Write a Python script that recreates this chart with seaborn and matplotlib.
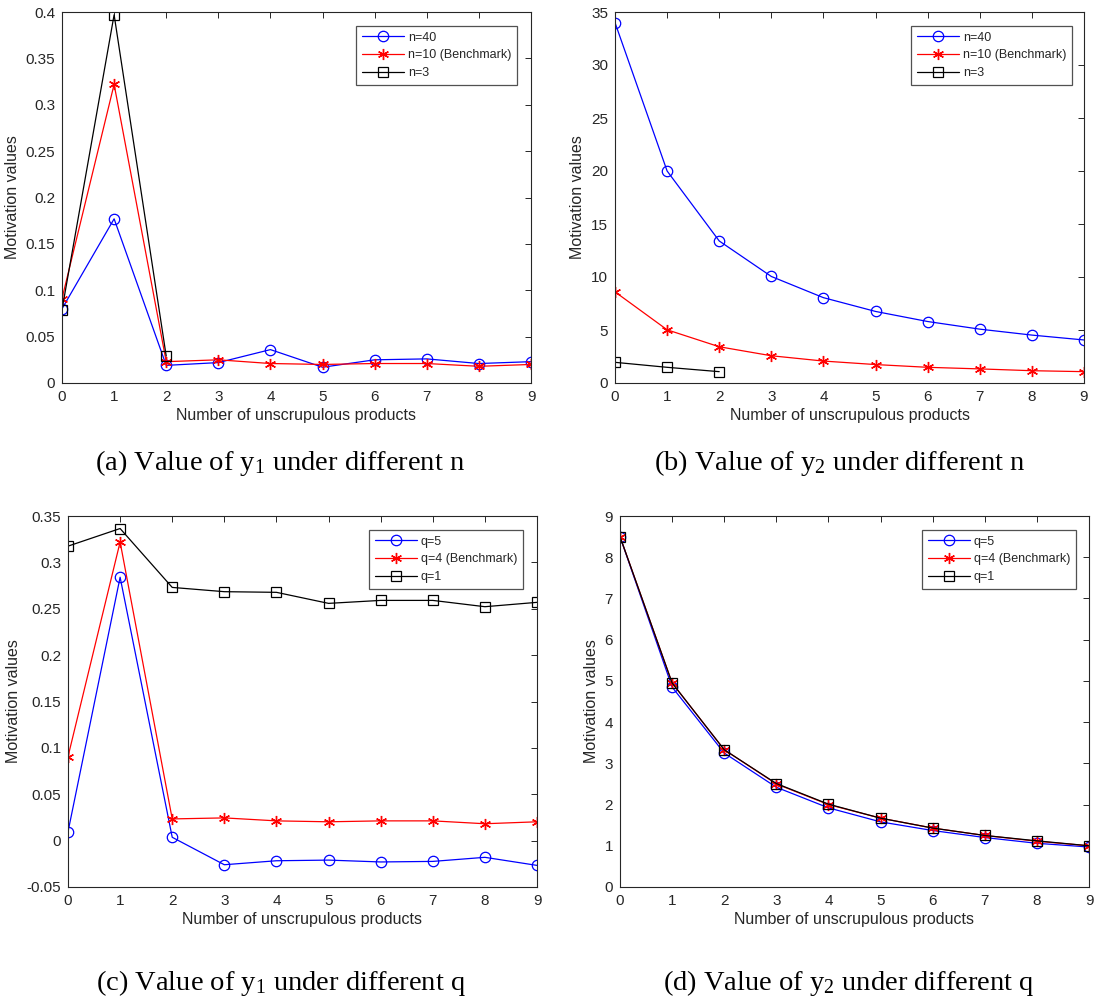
import numpy as np
import pandas as pd
import matplotlib
matplotlib.use("Agg")
import matplotlib.pyplot as plt
from matplotlib.ticker import FuncFormatter
import seaborn as sns

# ---------------- data ----------------
x_products = [0, 1, 2, 3, 4, 5, 6, 7, 8, 9]

# (a) y1 under different n
a_n40 = [0.080, 0.177, 0.019, 0.022, 0.036, 0.017, 0.025, 0.026, 0.021, 0.023]
a_n10 = [0.091, 0.322, 0.023, 0.025, 0.021, 0.020, 0.021, 0.021, 0.018, 0.020]
a_n3 = [0.079, 0.397, 0.029]

# (b) y2 under different n
b_n40 = [34.0, 20.0, 13.4, 10.05, 8.05, 6.75, 5.8, 5.08, 4.52, 4.06]
b_n10 = [8.6, 5.02, 3.42, 2.57, 2.07, 1.74, 1.48, 1.33, 1.16, 1.07]
b_n3 = [1.95, 1.48, 1.07]

# (c) y1 under different q
c_q5 = [0.0095, 0.284, 0.0036, -0.026, -0.0217, -0.021, -0.023, -0.0224, -0.018, -0.0267]
c_q4 = [0.0905, 0.322, 0.0234, 0.0245, 0.0213, 0.0203, 0.0213, 0.0213, 0.0182, 0.0203]
c_q1 = [0.3175, 0.3365, 0.273, 0.2684, 0.2677, 0.2558, 0.259, 0.259, 0.2522, 0.2569]

# (d) y2 under different q
d_q5 = [8.5, 4.85, 3.25, 2.42, 1.92, 1.58, 1.37, 1.20, 1.06, 0.97]
d_q4 = [8.5, 4.95, 3.33, 2.50, 2.00, 1.67, 1.43, 1.25, 1.11, 1.00]
d_q1 = [8.5, 4.95, 3.33, 2.51, 2.01, 1.67, 1.43, 1.25, 1.12, 1.00]

labels_n = ["n=40", "n=10 (Benchmark)", "n=3"]
labels_q = ["q=5", "q=4 (Benchmark)", "q=1"]

captions = [
    r"(a) Value of y$_{\mathrm{1}}$ under different n",
    r"(b) Value of y$_{\mathrm{2}}$ under different n",
    r"(c) Value of y$_{\mathrm{1}}$ under different q",
    r"(d) Value of y$_{\mathrm{2}}$ under different q",
]

xlabel = "Number of unscrupulous products"
ylabel = "Motivation values"

# ---------------- style ----------------
sns.set_theme(style="white")
plt.rcParams["font.family"] = ["Liberation Sans", "DejaVu Sans"]
plt.rcParams["mathtext.fontset"] = "custom"
plt.rcParams["mathtext.rm"] = "Liberation Serif"
plt.rcParams["mathtext.it"] = "Liberation Serif:italic"

grey = "#262626"
series_styles = [
    dict(color="#0000ff", marker="o", markerfacecolor="none", markeredgecolor="#0000ff", markersize=7.5, markeredgewidth=0.9),
    dict(color="#ff0000", marker=(6, 2, 0), markerfacecolor="#ff0000", markeredgecolor="#ff0000", markersize=8, markeredgewidth=1.0),
    dict(color="#000000", marker="s", markerfacecolor="none", markeredgecolor="#000000", markersize=6.5, markeredgewidth=0.9),
]

fig = plt.figure(figsize=(10.95, 10.02), dpi=100)

W = 469 / 1095
H = 371 / 1002
positions = [
    [62 / 1095, 1 - 383 / 1002, W, H],
    [615 / 1095, 1 - 383 / 1002, W, H],
    [68 / 1095, 1 - 887 / 1002, W, H],
    [620 / 1095, 1 - 887 / 1002, W, H],
]

panels = [
    ([a_n40, a_n10, a_n3], labels_n, (0, 0.4), [0, 0.05, 0.1, 0.15, 0.2, 0.25, 0.3, 0.35, 0.4], (0.970, 0.962)),
    ([b_n40, b_n10, b_n3], labels_n, (0, 35), [0, 5, 10, 15, 20, 25, 30, 35], (0.974, 0.962)),
    ([c_q5, c_q4, c_q1], labels_q, (-0.05, 0.35), [-0.05, 0, 0.05, 0.1, 0.15, 0.2, 0.25, 0.3, 0.35], (0.970, 0.962)),
    ([d_q5, d_q4, d_q1], labels_q, (0, 9), [0, 1, 2, 3, 4, 5, 6, 7, 8, 9], (0.972, 0.962)),
]

fmt = FuncFormatter(lambda v, p: ("%g" % round(v, 6)))

for pos, (series, labels, ylim, yticks, legpos) in zip(positions, panels):
    ax = fig.add_axes(pos)
    for vals, lab, st in zip(series, labels, series_styles):
        df = pd.DataFrame({"x": x_products[: len(vals)], "y": vals})
        sns.lineplot(data=df, x="x", y="y", ax=ax, label=lab, linewidth=0.9, **st)
    ax.set_xlim(0, 9)
    ax.set_ylim(*ylim)
    ax.set_xticks(x_products)
    ax.set_yticks(yticks)
    ax.yaxis.set_major_formatter(fmt)
    ax.set_xlabel(xlabel, fontsize=11.5, color=grey, labelpad=3)
    ax.set_ylabel(ylabel, fontsize=11.5, color=grey, labelpad=4)
    ax.tick_params(axis="both", direction="in", length=4, width=0.7, colors=grey,
                   labelsize=11, top=True, right=True, pad=5)
    for sp in ax.spines.values():
        sp.set_visible(True)
        sp.set_color(grey)
        sp.set_linewidth(0.8)
    leg = ax.legend(loc="upper right", bbox_to_anchor=legpos, borderaxespad=0,
                    fontsize=9, frameon=True, fancybox=False, edgecolor=grey,
                    handlelength=3.4, handletextpad=0.3, labelspacing=0.45,
                    borderpad=0.45)
    leg.get_frame().set_linewidth(0.9)
    for t in leg.get_texts():
        t.set_color(grey)

cap_kw = dict(fontsize=20.5, family=["Liberation Serif", "DejaVu Serif"], ha="center", va="center", color="black")
fig.text(280 / 1095, 1 - 463 / 1002, captions[0], **cap_kw)
fig.text(840 / 1095, 1 - 463 / 1002, captions[1], **cap_kw)
fig.text(281 / 1095, 1 - 983 / 1002, captions[2], **cap_kw)
fig.text(849 / 1095, 1 - 983 / 1002, captions[3], **cap_kw)

fig.savefig("out.png", dpi=100, facecolor="white")
